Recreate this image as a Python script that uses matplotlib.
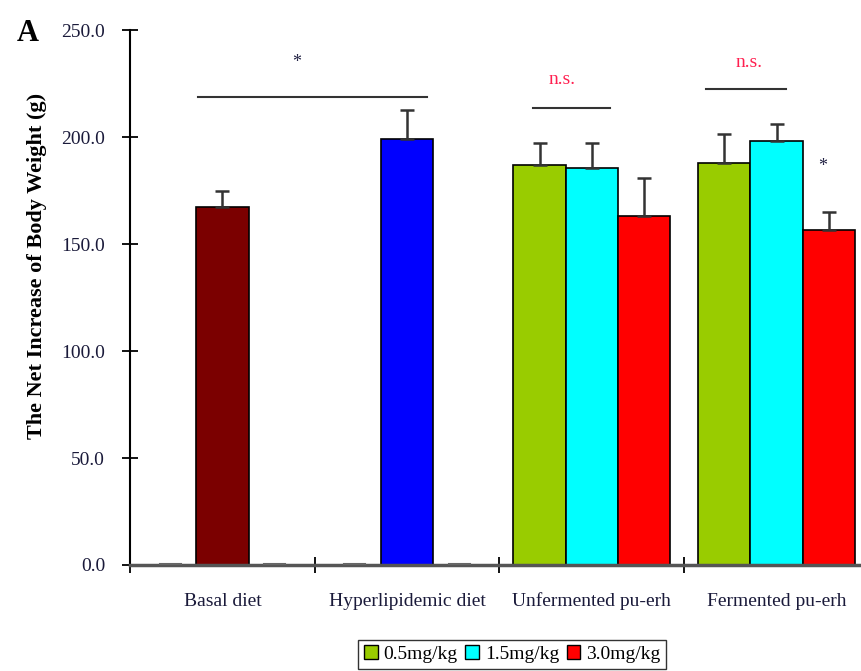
import numpy as np
import matplotlib.pyplot as plt

plt.rcParams['font.family'] = ['Liberation Serif', 'DejaVu Serif']

categories = ['Basal diet', 'Hyperlipidemic diet', 'Unfermented pu-erh', 'Fermented pu-erh']
doses = ['0.5mg/kg', '1.5mg/kg', '3.0mg/kg']
# rows = category, cols = dose slot (basal / hyperlipidemic only use the middle slot)
means = np.array([[0, 167.5, 0],
                  [0, 199.0, 0],
                  [187.0, 185.5, 163.0],
                  [188.0, 198.0, 156.5]])
errs = np.array([[0, 7.5, 0],
                 [0, 13.5, 0],
                 [10.5, 12.0, 18.0],
                 [13.5, 8.0, 8.5]])
dose_colors = ['#99cc00', '#00ffff', '#ff0000']
control_colors = ['#7b0000', '#0000ff']

fig = plt.figure(figsize=(8.61, 6.71), dpi=100)
ax = fig.add_axes([0.151, 0.158, 0.849, 0.797])

w = 0.283
x = np.arange(len(categories))
for j in range(3):
    for i in range(len(categories)):
        h = means[i, j]
        if i < 2:
            col = control_colors[i] if j == 1 else 'none'
        else:
            col = dose_colors[j]
        xp = x[i] + (j - 1) * w
        if h == 0:
            # empty slots show as short dashes on the baseline
            ax.plot([xp - w * 0.2, xp + w * 0.2], [0.6, 0.6], color='#666666', lw=1.5,
                    zorder=3, clip_on=False)
            continue
        ax.bar(xp, h, w, color=col, edgecolor='black', linewidth=1.2, zorder=2)
        ax.errorbar(xp, h, yerr=[[0], [errs[i, j]]], fmt='none', ecolor='#333333',
                    elinewidth=1.8, capsize=5, capthick=1.8, zorder=3)

# significance marks
ax.plot([-0.13, 1.11], [218.7, 218.7], color='#333333', lw=1.5)
ax.text(0.4, 235, '*', ha='center', va='center', fontsize=13, color='#222244')
ax.plot([1.68, 2.1], [213.5, 213.5], color='#333333', lw=1.5)
ax.text(1.84, 227, 'n.s.', ha='center', va='center', fontsize=14, color='#ff2050')
ax.plot([2.62, 3.05], [222.4, 222.4], color='#333333', lw=1.5)
ax.text(2.85, 235, 'n.s.', ha='center', va='center', fontsize=14, color='#ff2050')
ax.text(3.25, 186.5, '*', ha='center', va='center', fontsize=13, color='#222244')

ax.set_xlim(-0.5, 3.457)
ax.set_ylim(0, 250)
ax.set_yticks(np.arange(0, 251, 50))
ax.set_yticklabels([f'{v:.1f}' for v in np.arange(0, 251, 50)], fontsize=14, color='#1a1a3a')
ax.set_xticks([-0.5, 0.5, 1.5, 2.5])
ax.set_xticklabels([])
ax.tick_params(axis='y', direction='inout', length=12, width=1.3, pad=12)
ax.tick_params(axis='x', direction='inout', length=12, width=1.3)
for i, c in enumerate(categories):
    ax.text(x[i], -17, c, ha='center', va='center', fontsize=14, color='#1a1a3a')

for s in ['top', 'right']:
    ax.spines[s].set_visible(False)
ax.spines['left'].set_linewidth(1.5)
ax.spines['bottom'].set_linewidth(2.5)
ax.spines['bottom'].set_color('#555555')

ax.set_ylabel('The Net Increase of Body Weight (g)', fontsize=16, fontweight='bold')
ax.yaxis.set_label_coords(-0.113, 0.559)
fig.text(0.02, 0.95, 'A', fontsize=22, fontweight='bold', va='center')

handles = [plt.Rectangle((0, 0), 1, 1, facecolor=c, edgecolor='black') for c in dose_colors]
leg = fig.legend(handles, doses, loc='center', ncol=3,
                 fontsize=14, frameon=True, fancybox=False, edgecolor='black',
                 handlelength=0.7, handleheight=0.7, handletextpad=0.3, columnspacing=0.4,
                 borderpad=0.3)
leg.set_bbox_to_anchor((0.595, 0.025), transform=fig.transFigure)

fig.savefig('out.png', dpi=100)
